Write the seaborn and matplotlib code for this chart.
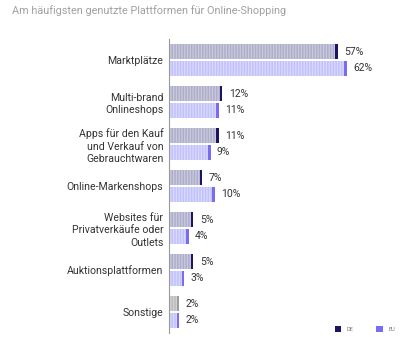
import matplotlib
matplotlib.use("Agg")
import matplotlib.pyplot as plt
from matplotlib.patches import Patch
import seaborn as sns
import pandas as pd
import numpy as np

platforms = [
    "Marktplätze",
    "Multi-brand\nOnlineshops",
    "Apps für den Kauf\nund Verkauf von\nGebrauchtwaren",
    "Online-Markenshops",
    "Websites für\nPrivatverkäufe oder\nOutlets",
    "Auktionsplattformen",
    "Sonstige",
]
de_values = [57, 12, 11, 7, 5, 5, 2]
eu_values = [62, 11, 9, 10, 4, 3, 2]
regions = ["DE", "EU"]
title = "Am häufigsten genutzte Plattformen für Online-Shopping"

df = pd.DataFrame({
    "platform": platforms * 2,
    "value": de_values + eu_values,
    "region": ["DE"] * len(platforms) + ["EU"] * len(platforms),
})

sns.set_theme(style="white")
plt.rcParams["font.family"] = ["Roboto", "DejaVu Sans"]
plt.rcParams["hatch.linewidth"] = 0.9

fill = {"DE": "#aeaec9", "EU": "#c2c2fa"}
stripe = {"DE": "#cacadf", "EU": "#d9d9ff"}
cap = {"DE": "#1b1464", "EU": "#7a6cf2"}
other_fill, other_stripe, other_cap = "#bcbcbc", "#d2d2d2", "#9c9c9c"

# compressed value axis so small shares stay readable next to the large ones
K = 30.0
def fwd(x):
    return np.log1p(np.asarray(x, dtype=float) / K)
def inv(u):
    return K * np.expm1(np.asarray(u, dtype=float))

fig = plt.figure(figsize=(4.0, 3.37), dpi=100)
ax = fig.add_axes([0.4225, 0.012, 0.55, 0.872])

sns.barplot(data=df, y="platform", x="value", hue="region", order=platforms,
            hue_order=regions, orient="h", width=0.8, gap=0.1,
            palette=fill, legend=False, ax=ax)

ax.set_xscale("function", functions=(fwd, inv))
ax.set_xlim(0, 90)
ax.set_ylim(len(platforms) - 0.5, -0.5)

cap_u = 0.0165  # cap thickness in scaled units (~2.6 px)
bars = list(ax.patches)
for p in bars:
    w = p.get_width()
    y0, h = p.get_y(), p.get_height()
    yc = y0 + h / 2
    idx = int(round(yc))
    region = "DE" if yc < idx else "EU"
    is_other = platforms[idx] == "Sonstige" and region == "DE"
    fc = other_fill if is_other else fill[region]
    sc = other_stripe if is_other else stripe[region]
    cc = other_cap if is_other else cap[region]
    p.set_facecolor(fc)
    p.set_edgecolor(sc)
    p.set_linewidth(0)
    p.set_hatch("||||||")
    cap_left = float(inv(fwd(w) - cap_u))
    ax.barh(yc, w - cap_left, left=cap_left, height=h, color=cc, linewidth=0)
    ax.annotate(f"{int(round(w))}%", xy=(w, yc), xytext=(4.5, 0),
                textcoords="offset points", va="center", ha="left",
                fontsize=7.5, color="#333333")

ax.set_xlabel("")
ax.set_ylabel("")
ax.set_xticks([])
ax.minorticks_off()
ax.set_yticks(range(len(platforms)))
ax.set_yticklabels(platforms, fontsize=7.6, color="#333333", linespacing=1.3)
ax.tick_params(axis="y", length=0, pad=4)
ax.tick_params(axis="x", which="both", length=0, labelbottom=False)
for s in ["top", "right", "bottom"]:
    ax.spines[s].set_visible(False)
ax.spines["left"].set_color("#999999")
ax.spines["left"].set_linewidth(0.8)

fig.text(0.03, 0.985, title, fontsize=7.8, color="#a0a0a0", va="top", ha="left")

handles = [Patch(facecolor=cap[r], edgecolor="none", label=r) for r in regions]
fig.legend(handles=handles, loc="lower right", bbox_to_anchor=(1.0, 0.0),
           ncol=2, fontsize=4, frameon=False, handlelength=1.2,
           handleheight=1.2, handletextpad=1.0, columnspacing=4.0,
           labelcolor="#777777")

fig.savefig("out.png", dpi=100)
